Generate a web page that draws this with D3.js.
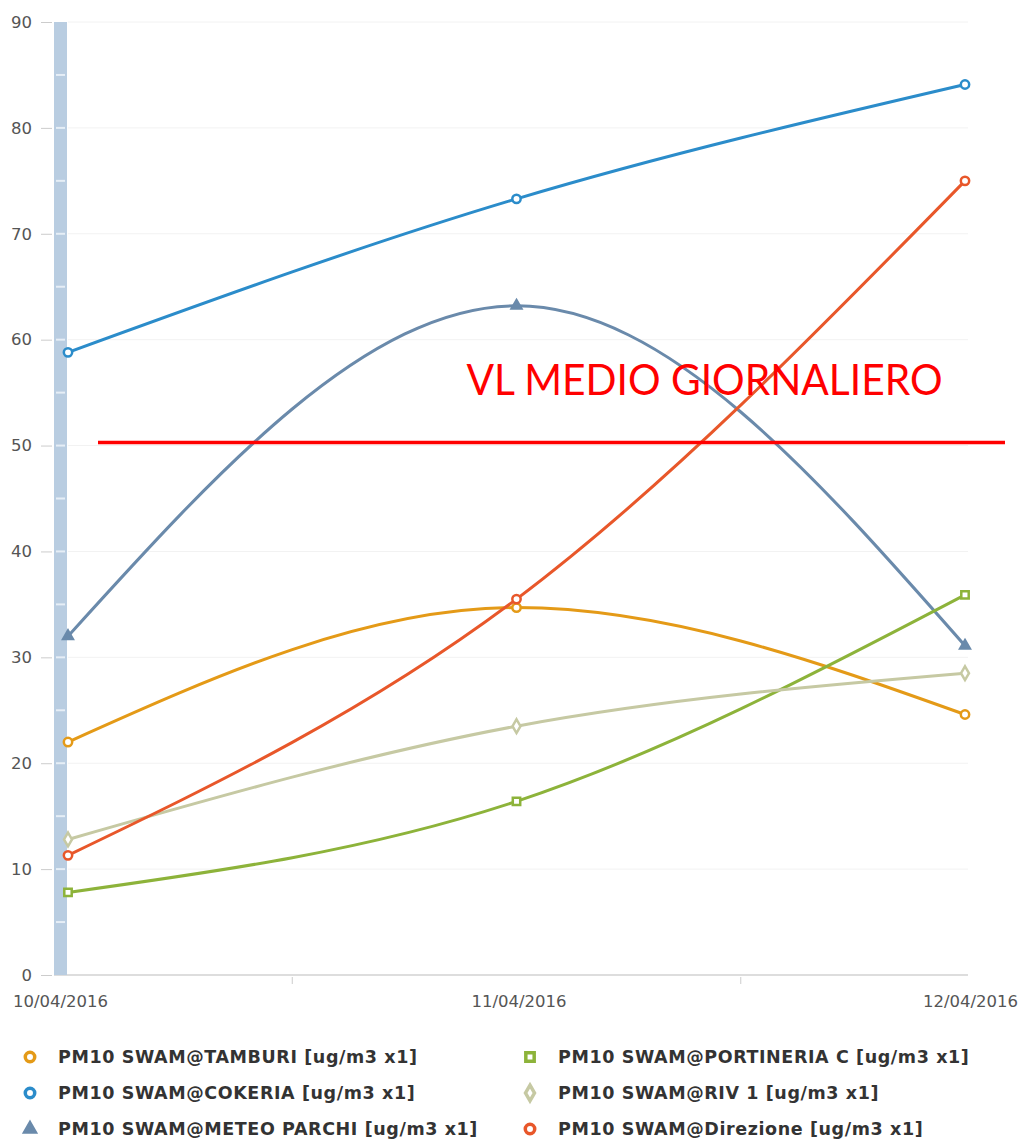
<!DOCTYPE html>
<meta charset="utf-8">
<style>
    body { margin: 0; background: #fff; }
    .axis--y .domain, .axis--x .domain { display: none; }
    .axis text { fill: #555; font-family: "DejaVu Sans", Verdana, sans-serif; font-size: 16.5px; }
    .legend text { fill: #333; font-family: "DejaVu Sans", Verdana, sans-serif; font-size: 17.5px; font-weight: bold; }
</style>
<svg width="1028" height="1140"></svg>
<script src="https://d3js.org/d3.v7.min.js"></script>
<script>

    var dates = ["10/04/2016", "11/04/2016", "12/04/2016"];
    var yTicks = [0, 10, 20, 30, 40, 50, 60, 70, 80, 90];

    var tamburi = [22.0, 34.7, 24.6];
    var cokeria = [58.8, 73.3, 84.1];
    var meteoParchi = [32.0, 63.2, 31.1];
    var portineria = [7.8, 16.4, 35.9];
    var riv1 = [12.8, 23.5, 28.5];
    var direzione = [11.3, 35.5, 75.0];

    var vlValue = 50.3;
    var vlLabel = "VL MEDIO GIORNALIERO";

    var series = [
        {name: "PM10 SWAM@TAMBURI [ug/m3 x1]", values: tamburi, color: "#e49a17", symbol: "circle"},
        {name: "PM10 SWAM@COKERIA [ug/m3 x1]", values: cokeria, color: "#2b8cca", symbol: "circle"},
        {name: "PM10 SWAM@METEO PARCHI [ug/m3 x1]", values: meteoParchi, color: "#6a8aab", symbol: "triangle"},
        {name: "PM10 SWAM@PORTINERIA C [ug/m3 x1]", values: portineria, color: "#8db33a", symbol: "square"},
        {name: "PM10 SWAM@RIV 1 [ug/m3 x1]", values: riv1, color: "#c6c9a3", symbol: "diamond"},
        {name: "PM10 SWAM@Direzione [ug/m3 x1]", values: direzione, color: "#e8572a", symbol: "circle"}
    ];

    var svg = d3.select("svg"),
        margin = {top: 22, left: 68, right: 63, bottom: 165},
        width = +svg.attr("width") - margin.left - margin.right,
        height = +svg.attr("height") - margin.top - margin.bottom;

    var x = d3.scalePoint().domain(dates).range([0, width]),
        y = d3.scaleLinear().domain([0, 90]).range([height, 0]);

    var g = svg.append("g")
        .attr("transform", "translate(" + margin.left + "," + margin.top + ")");

    // faint horizontal grid
    g.selectAll(".grid")
        .data(yTicks.slice(1))
        .enter().append("line")
        .attr("class", "grid")
        .attr("x1", 0).attr("x2", width + 3)
        .attr("y1", function(d) { return y(d); })
        .attr("y2", function(d) { return y(d); })
        .attr("stroke", "#f2f2f2");

    // bottom axis line
    g.append("line")
        .attr("x1", -14).attr("x2", width + 3)
        .attr("y1", height).attr("y2", height)
        .attr("stroke", "#ddd").attr("stroke-width", 2);

    // minor x ticks between dates
    g.selectAll(".xminor")
        .data(dates.slice(1))
        .enter().append("line")
        .attr("x1", function(d, i) { return (x(dates[i]) + x(d)) / 2; })
        .attr("x2", function(d, i) { return (x(dates[i]) + x(d)) / 2; })
        .attr("y1", height + 2).attr("y2", height + 9)
        .attr("stroke", "#ccc");

    // navigator bar on the left
    g.append("rect")
        .attr("x", -14).attr("width", 13)
        .attr("y", 0).attr("height", height)
        .attr("fill", "#b9cde1");

    g.selectAll(".barTick")
        .data(d3.range(5, 90, 5))
        .enter().append("line")
        .attr("x1", -12).attr("x2", -3)
        .attr("y1", function(d) { return y(d); })
        .attr("y2", function(d) { return y(d); })
        .attr("stroke", "#e6eef6").attr("stroke-width", 2);

    g.append("g")
        .attr("class", "axis axis--y")
        .attr("transform", "translate(-16,0)")
        .call(d3.axisLeft(y).tickValues(yTicks).tickSize(11).tickPadding(9))
        .selectAll(".tick line").attr("stroke", "#ccc");

    g.append("g")
        .attr("class", "axis axis--x")
        .attr("transform", "translate(0," + height + ")")
        .call(d3.axisBottom(x).tickSize(0).tickPadding(20))
        .selectAll(".tick text")
        .attr("dx", function(d, i) { return i === 0 ? -8 : (i === 2 ? 5 : 2); });

    var line = d3.line()
        .x(function(d, i) { return x(dates[i]); })
        .y(function(d) { return y(d); })
        .curve(d3.curveMonotoneX);

    var symbols = {
        circle: d3.symbolCircle,
        triangle: d3.symbolTriangle,
        square: d3.symbolSquare,
        diamond: d3.symbolDiamond
    };

    var s = g.selectAll(".series")
        .data(series)
        .enter().append("g")
        .attr("class", "series");

    s.append("path")
        .attr("fill", "none")
        .attr("stroke", function(d) { return d.color; })
        .attr("stroke-width", 3)
        .attr("d", function(d) { return line(d.values); });

    s.selectAll(".pt")
        .data(function(d) { return d.values.map(function(v, i) { return {v: v, i: i, s: d}; }); })
        .enter().append("path")
        .attr("class", "pt")
        .attr("transform", function(d) { return "translate(" + x(dates[d.i]) + "," + y(d.v) + ")"; })
        .attr("d", function(d) { return d3.symbol().type(symbols[d.s.symbol]).size(d.s.symbol === "triangle" ? 40 : 55)(); })
        .attr("fill", function(d) { return d.s.symbol === "triangle" ? d.s.color : "#fff"; })
        .attr("stroke", function(d) { return d.s.color; })
        .attr("stroke-width", 2.5);

    // annotation: daily limit value
    g.append("line")
        .attr("x1", x(dates[0]) + 30).attr("x2", width + 40)
        .attr("y1", y(vlValue)).attr("y2", y(vlValue))
        .attr("stroke", "#ff0000").attr("stroke-width", 3.5);

    g.append("text")
        .attr("x", x(dates[1]) - 50)
        .attr("y", y(vlValue) - 47)
        .attr("fill", "#ff0000")
        .attr("font-family", "Lato, 'Open Sans', sans-serif")
        .attr("font-size", 43)
        .attr("textLength", 476)
        .attr("lengthAdjust", "spacingAndGlyphs")
        .text(vlLabel);

    // legend
    var legend = svg.append("g").attr("class", "legend");
    var items = legend.selectAll(".item")
        .data(series)
        .enter().append("g")
        .attr("class", "item")
        .attr("transform", function(d, i) {
            var col = Math.floor(i / 3), row = i % 3;
            return "translate(" + (30 + col * 500) + "," + (1057 + row * 36) + ")";
        });

    items.append("path")
        .attr("d", function(d) { return d3.symbol().type(symbols[d.symbol]).size(d.symbol === "triangle" ? 45 : 70)(); })
        .attr("fill", function(d) { return d.symbol === "triangle" ? d.color : "#fff"; })
        .attr("stroke", function(d) { return d.color; })
        .attr("stroke-width", 3.5);

    items.append("text")
        .attr("x", 28)
        .attr("dy", "0.36em")
        .attr("letter-spacing", 0.6)
        .text(function(d) { return d.name; });
</script>
